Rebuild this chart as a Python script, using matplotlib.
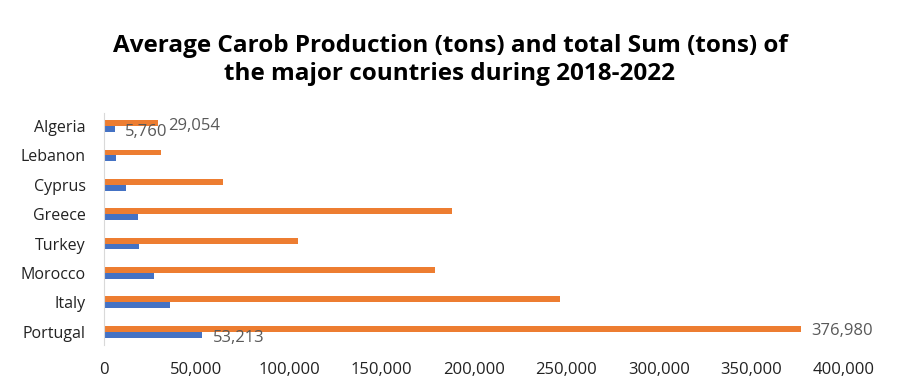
import matplotlib.pyplot as plt
import numpy as np

# values (tons)
countries = ["Portugal", "Italy", "Morocco", "Turkey", "Greece", "Cyprus", "Lebanon", "Algeria"]
average = [53213, 35700, 27000, 18900, 18400, 11900, 6500, 5760]
total = [376980, 246500, 179000, 105000, 188000, 64300, 30800, 29054]
xticks = np.arange(0, 400001, 50000)

plt.rcParams["font.family"] = ["Open Sans", "DejaVu Sans"]

fig = plt.figure(figsize=(9, 3.92), dpi=100)
ax = fig.add_axes([0.1156, 0.12, 0.822, 0.592])

y = np.arange(len(countries))
h = 0.2
ax.barh(y + h / 2, total, height=h, color="#ED7D31")
ax.barh(y - h / 2, average, height=h, color="#4472C4")

# only Algeria and Portugal carry data labels
lab_col = "#595959"
for i in [0, 7]:
    ax.text(total[i] + 5500, y[i] + 0.02, f"{total[i]:,}", va="center", ha="left",
            fontsize=12, color=lab_col)
    ax.text(average[i] + 5500, y[i] - 0.2, f"{average[i]:,}", va="center", ha="left",
            fontsize=12, color=lab_col)

ax.set_xlim(0, 400000)
ax.set_ylim(-0.45, 7.45)
ax.set_xticks(xticks)
ax.set_xticklabels([f"{v:,}" for v in xticks])
ax.set_yticks(y)
ax.set_yticklabels(countries)
ax.tick_params(axis="x", length=0, pad=12, labelsize=12, labelcolor="#222222")
ax.tick_params(axis="y", length=0, pad=13, labelsize=11.5, labelcolor="#222222")

for s in ["top", "right", "bottom"]:
    ax.spines[s].set_visible(False)
ax.spines["left"].set_color("#d9d9d9")

fig.text(0.5, 0.847, "Average Carob Production (tons) and total Sum (tons) of\nthe major countries during 2018-2022",
         ha="center", va="center", fontsize=17.5, fontweight="bold", linespacing=1.25)

fig.savefig("out.png", dpi=100)
